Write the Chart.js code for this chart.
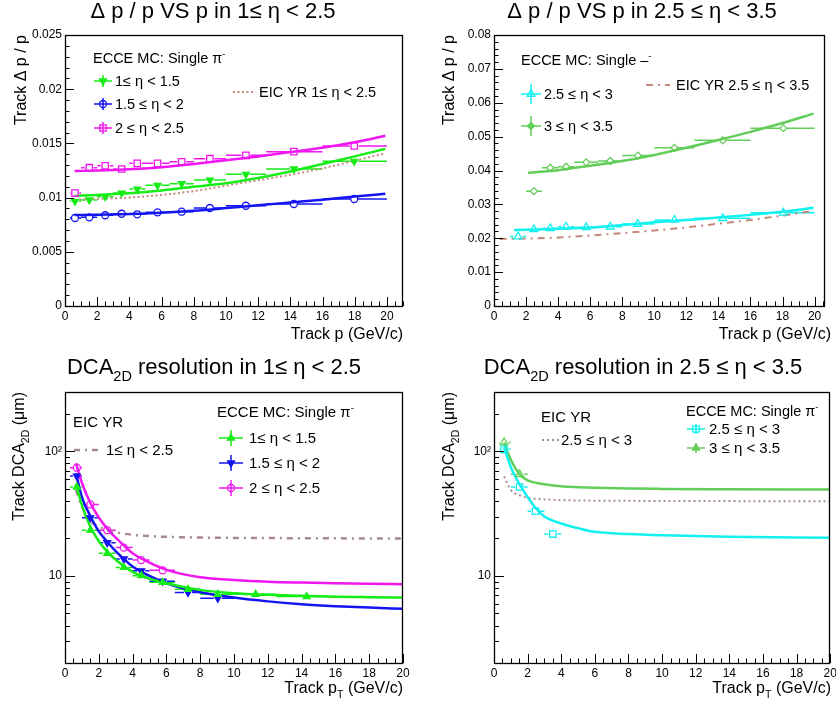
<!DOCTYPE html>
<html>
<head>
<meta charset="utf-8">
<title>ECCE tracking resolution</title>
<script src="https://cdn.jsdelivr.net/npm/chart.js@4.4.1/dist/chart.umd.min.js"></script>
<style>
  html, body { margin: 0; padding: 0; background: #fff; }
  body { position: relative; width: 836px; height: 707px; overflow: hidden; }
  canvas { position: absolute; }
</style>
</head>
<body>
<canvas id="tl" width="418" height="350" style="left:0;top:0"></canvas>
<canvas id="tr" width="418" height="350" style="left:418px;top:0"></canvas>
<canvas id="bl" width="418" height="357" style="left:0;top:350px"></canvas>
<canvas id="br" width="418" height="357" style="left:418px;top:350px"></canvas>
<script>
const FONT = '"Liberation Sans", Arial, Helvetica, sans-serif';

// p bins shared by every panel (GeV/c)
const binLo = [0.3, 1, 2, 3, 4, 5, 6.5, 8, 10, 12.5, 16];
const binHi = [1, 2, 3, 4, 5, 6.5, 8, 10, 12.5, 16, 20];

// tick labels
const xTickVals = [0, 2, 4, 6, 8, 10, 12, 14, 16, 18, 20];
const yTickValsTL = [0, 0.005, 0.01, 0.015, 0.02, 0.025];
const yTickLabelsTL = ['0', '0.005', '0.01', '0.015', '0.02', '0.025'];
const yTickValsTR = [0, 0.01, 0.02, 0.03, 0.04, 0.05, 0.06, 0.07, 0.08];
const yTickLabelsTR = ['0', '0.01', '0.02', '0.03', '0.04', '0.05', '0.06', '0.07', '0.08'];
const yTickValsLog = [10, 100];
const yTickLabelsLog = ['10', '10\u00b2'];

// top left: dp/p vs p, 1 <= eta < 2.5
const pTL = [0.62, 1.51, 2.5, 3.52, 4.49, 5.75, 7.25, 9.0, 11.24, 14.22, 17.97];
const dppEta10 = [0.00966, 0.00978, 0.01008, 0.01042, 0.01079, 0.01113, 0.01128, 0.01162, 0.01215, 0.01264, 0.01335];
const dppEta15 = [0.00812, 0.00818, 0.00837, 0.00851, 0.00846, 0.00864, 0.0087, 0.00904, 0.00925, 0.00941, 0.00987];
const dppEta20 = [0.01042, 0.01276, 0.01294, 0.01264, 0.01316, 0.01316, 0.01331, 0.01359, 0.0139, 0.01424, 0.01476];
const fitPTL = [0.6, 2, 4, 6, 8, 10, 12, 14, 16, 18, 19.9];
const fitEta10 = [0.01015, 0.01025, 0.0104, 0.01065, 0.011, 0.01132, 0.0118, 0.0124, 0.0131, 0.0138, 0.0145];
const fitEta15 = [0.0084, 0.00842, 0.00848, 0.0086, 0.00878, 0.00903, 0.0093, 0.00955, 0.0098, 0.0101, 0.01035];
const fitEta20 = [0.01245, 0.0125, 0.01262, 0.0128, 0.0131, 0.01345, 0.0138, 0.0142, 0.0146, 0.0151, 0.0157];
const yrTL = [0.0098, 0.00988, 0.01, 0.01025, 0.0106, 0.0111, 0.0116, 0.0121, 0.0127, 0.0134, 0.0141];

// top right: dp/p vs p, 2.5 <= eta < 3.5
const pTR = [1.5, 2.49, 3.51, 4.5, 5.75, 7.25, 8.97, 11.26, 14.27, 18.05];
const dppEta25 = [0.0205, 0.0226, 0.0229, 0.0234, 0.0232, 0.0234, 0.0242, 0.0254, 0.0259, 0.0275];
const dppEta30 = [0.0339, 0.0408, 0.0411, 0.0424, 0.0428, 0.0444, 0.0467, 0.0489, 0.0525];
const fitPEta25 = [1.25, 4, 6, 8, 10, 12, 14, 16, 18, 19.94];
const fitEta25 = [0.0224, 0.0228, 0.0232, 0.0239, 0.0247, 0.0254, 0.0261, 0.0269, 0.0278, 0.029];
const fitPEta30 = [2.12, 4, 6, 8, 10, 12, 14, 16, 18, 19.94];
const fitEta30 = [0.0393, 0.0401, 0.0414, 0.0428, 0.0446, 0.0467, 0.049, 0.0514, 0.054, 0.0568];
const yrPTR = [0.35, 2, 4, 6, 8, 10, 12, 14, 16, 18, 19.94];
const yrTR = [0.0198, 0.0199, 0.0202, 0.0208, 0.0215, 0.0223, 0.0232, 0.0243, 0.0254, 0.0267, 0.0281];

// bottom left: DCA2D vs pT, 1 <= eta < 2.5 (um)
const ptBL = [0.7, 1.5, 2.5, 3.48, 4.51, 5.78, 7.28, 9.04, 11.28, 14.3];
const dcaEta10 = [51.8, 23.3, 15.2, 11.7, 10.05, 8.9, 7.82, 7.13, 7.13, 6.84];
const dcaEta15 = [63.4, 29.3, 18.5, 13.7, 11.0, 9.07, 7.36, 6.63];
const dcaEta20 = [74, 37.5, 23.3, 16.9, 13.4, 11.1];
const fitPtBL = [0.65, 1, 1.5, 2, 2.5, 3, 4, 5, 6, 8, 10, 12, 14, 16, 18, 20];
const fitDcaEta10 = [55.2, 37, 24.8, 19, 15.7, 13.5, 10.8, 9.5, 8.74, 7.73, 7.26, 7.05, 6.92, 6.82, 6.76, 6.71];
const fitDcaEta15 = [67, 43, 30.3, 22.8, 18.8, 15.8, 11.9, 10.0, 8.74, 7.4, 6.71, 6.25, 5.93, 5.72, 5.57, 5.45];
const fitDcaEta20 = [80, 56, 38.5, 29.5, 24, 20.3, 15.2, 12.8, 11.2, 9.77, 9.29, 9.0, 8.84, 8.72, 8.64, 8.58];
const yrDcaBL = [49, 36, 27.5, 25, 23.3, 22.4, 21.4, 20.9, 20.6, 20.35, 20.2, 20.15, 20.1, 20.05, 20.0, 20.0];

// bottom right: DCA2D vs pT, 2.5 <= eta < 3.5 (um)
const ptBR = [0.6, 1.52, 2.47, 3.5];
const dcaEta25 = [104, 51.8, 33.1, 21.7];
const dcaEta30 = [118, 65.5];
const fitPtBR = [0.6, 1, 1.5, 2, 2.5, 3, 4, 5, 6, 8, 10, 14, 20];
const fitDcaEta25 = [108, 75, 55, 43, 34.8, 30, 26.4, 24.2, 22.6, 21.7, 21.2, 20.6, 20.3];
const fitDcaEta30 = [118, 86, 66, 58.5, 56, 54.5, 52.5, 51.6, 51, 50.3, 50, 49.7, 49.4];
const yrDcaBR = [63, 49, 44.5, 42.4, 41.6, 41.2, 40.6, 40.4, 40.2, 40.1, 40.0, 39.9, 39.8];

const GREEN = '#16ec16', BLUE = '#1414f2', MAGENTA = '#f016f0', CYAN = '#12f0f0', GREEN2 = '#62cd58';

// text with sub/superscripts: parts = [[text, 0 normal | 1 sub | 2 sup], ...]
function rich(ctx, parts, x, y, size, align) {
  let w = 0;
  const segs = parts.map(([t, m]) => {
    const s = m ? size * 0.66 : size;
    ctx.font = s + 'px ' + FONT;
    const sw = ctx.measureText(t).width;
    w += sw;
    return { t, m, s, sw };
  });
  let cx = align === 'right' ? x - w : align === 'center' ? x - w / 2 : x;
  ctx.textAlign = 'left';
  ctx.textBaseline = 'alphabetic';
  segs.forEach(g => {
    ctx.font = g.s + 'px ' + FONT;
    const dy = g.m === 1 ? size * 0.33 : g.m === 2 ? -size * 0.42 : 0;
    ctx.fillText(g.t, cx, y + dy);
    cx += g.sw;
  });
}

function markers(label, xs, ys, bin0, color, style, filled, rot, r) {
  return {
    label, data: ys.map((v, i) => ({ x: xs[i], y: v })),
    showLine: false, borderColor: color, backgroundColor: filled ? color : 'rgba(0,0,0,0)',
    pointStyle: style, pointRotation: rot || 0, pointRadius: r || 4, pointBorderWidth: 1.3,
    binLo: binLo.slice(bin0, bin0 + ys.length), binHi: binHi.slice(bin0, bin0 + ys.length)
  };
}

function curve(label, xs, ys, color, width, dash) {
  return {
    label, data: ys.map((v, i) => ({ x: xs[i], y: v })),
    showLine: true, borderColor: color, borderWidth: width, borderDash: dash || [],
    pointRadius: 0, cubicInterpolationMode: 'monotone', fill: false
  };
}

function xScale(max) {
  return {
    type: 'linear', min: 0, max: max,
    grid: { display: false, drawTicks: false }, border: { display: false },
    ticks: { font: { size: 12, family: FONT }, color: '#000', padding: 3, autoSkip: false,
             minRotation: 0, maxRotation: 0, callback: (v, i) => String(xTickVals[i]) },
    afterBuildTicks: s => { s.ticks = xTickVals.map(v => ({ value: v })); },
    afterFit: s => { s.height = 20; s.paddingLeft = 0; s.paddingRight = 0; }
  };
}

function yScale(type, min, max, vals, labels) {
  return {
    type: type, min: min, max: max,
    grid: { display: false, drawTicks: false }, border: { display: false },
    ticks: { font: { size: 12, family: FONT }, color: '#000', padding: 3, autoSkip: false,
             callback: (v, i) => labels[i] },
    afterBuildTicks: s => { s.ticks = vals.map(v => ({ value: v })); },
    afterFit: s => { s.width = 40; s.paddingTop = 0; s.paddingBottom = 0; }
  };
}

const PI_M = [['ECCE MC: Single ', 0], ['\u03c0', 0], ['-', 2]];

// per-panel decoration (titles, legends, tick pattern)
const deco = {
  tl: {
    ticks: { minor: 0.001, per: 5 },
    title: { parts: [['\u0394 p / p VS p in 1\u2264 \u03b7 < 2.5', 0]], x: 213, y: 18 },
    xTitle: { parts: [['Track p (GeV/c)', 0]], x: 403, y: 339 },
    yTitle: { parts: [['Track \u0394 p / p', 0]], x: 20, y: 35 },
    headers: [{ parts: PI_M, x: 93, y: 63, size: 14.5 }],
    items: [
      { x: 103, y: 81, hw: 9, eb: 6, color: GREEN, style: 'triangle', rot: 180, fill: true, text: '1\u2264 \u03b7 < 1.5', tx: 115, size: 14.5 },
      { x: 103, y: 104, hw: 9, eb: 6, color: BLUE, style: 'circle', r: 3.5, text: '1.5 \u2264 \u03b7 < 2', tx: 115, size: 14.5 },
      { x: 103, y: 128, hw: 9, eb: 6, color: MAGENTA, style: 'rect', r: 4.5, text: '2 \u2264 \u03b7 < 2.5', tx: 115, size: 14.5 },
      { x: 244, y: 92, hw: 11, color: '#c98b7f', dash: [2, 2.5], lw: 2, text: 'EIC YR 1\u2264 \u03b7 < 2.5', tx: 259, size: 14.5 }
    ]
  },
  tr: {
    ticks: { minor: 0.002, per: 5 },
    title: { parts: [['\u0394 p / p VS p in 2.5 \u2264 \u03b7 < 3.5', 0]], x: 224, y: 18 },
    xTitle: { parts: [['Track p (GeV/c)', 0]], x: 413, y: 339 },
    yTitle: { parts: [['Track \u0394 p / p', 0]], x: 30, y: 35 },
    headers: [{ parts: [['ECCE MC: Single ', 0], ['\u2013', 0], ['-', 2]], x: 103, y: 65, size: 14.5 }],
    items: [
      { x: 113, y: 94, hw: 10, eb: 10, color: CYAN, style: 'triangle', r: 4.5, text: '2.5 \u2264 \u03b7 < 3', tx: 126, size: 14.5 },
      { x: 113, y: 126, hw: 10, eb: 10, color: GREEN2, style: 'rectRot', fill: true, r: 3.5, text: '3 \u2264 \u03b7 < 3.5', tx: 126, size: 14.5 },
      { x: 240, y: 85, hw: 12, color: '#c4877a', dash: [7, 5, 2, 5], lw: 2, text: 'EIC YR 2.5 \u2264 \u03b7 < 3.5', tx: 258, size: 14.5 }
    ]
  },
  bl: {
    ticks: { log: true },
    title: { parts: [['DCA', 0], ['2D', 1], [' resolution in 1\u2264 \u03b7 < 2.5', 0]], x: 214, y: 24 },
    xTitle: { parts: [['Track p', 0], ['T', 1], [' (GeV/c)', 0]], x: 403, y: 343 },
    yTitle: { parts: [['Track DCA', 0], ['2D', 1], [' (\u03bcm)', 0]], x: 18, y: 42 },
    headers: [{ parts: [['EIC YR', 0]], x: 73, y: 77, size: 15 }, { parts: PI_M, x: 217, y: 67, size: 15 }],
    items: [
      { x: 86, y: 100, hw: 12, color: '#a58b8b', dash: [6, 5, 2, 5], lw: 2.5, text: '1\u2264 \u03b7 < 2.5', tx: 106, size: 15 },
      { x: 231, y: 88, hw: 12, eb: 8, color: GREEN, style: 'triangle', fill: true, text: '1\u2264 \u03b7 < 1.5', tx: 249, size: 15 },
      { x: 231, y: 113, hw: 12, eb: 8, color: BLUE, style: 'triangle', rot: 180, fill: true, text: '1.5 \u2264 \u03b7 < 2', tx: 249, size: 15 },
      { x: 231, y: 138, hw: 12, eb: 8, color: MAGENTA, style: 'circle', r: 3.5, text: '2 \u2264 \u03b7 < 2.5', tx: 249, size: 15 }
    ]
  },
  br: {
    ticks: { log: true },
    title: { parts: [['DCA', 0], ['2D', 1], [' resolution in 2.5 \u2264 \u03b7 < 3.5', 0]], x: 225, y: 24 },
    xTitle: { parts: [['Track p', 0], ['T', 1], [' (GeV/c)', 0]], x: 413, y: 343 },
    yTitle: { parts: [['Track DCA', 0], ['2D', 1], [' (\u03bcm)', 0]], x: 30, y: 42 },
    headers: [{ parts: [['EIC YR', 0]], x: 123, y: 72, size: 15 }, { parts: PI_M, x: 268, y: 66, size: 14.5 }],
    items: [
      { x: 133, y: 90, hw: 9, color: '#a88c94', dash: [2, 3], lw: 2, text: '2.5 \u2264 \u03b7 < 3', tx: 143, size: 15 },
      { x: 278, y: 79, hw: 9, eb: 5, color: CYAN, style: 'rect', r: 4.5, text: '2.5 \u2264 \u03b7 < 3', tx: 291, size: 15 },
      { x: 278, y: 98, hw: 9, eb: 5, color: GREEN2, style: 'triangle', fill: true, text: '3 \u2264 \u03b7 < 3.5', tx: 291, size: 15 }
    ]
  }
};

const rootStyle = {
  id: 'rootStyle',
  beforeDatasetsDraw(chart) {
    // horizontal bin-width error bars
    const { ctx, chartArea: a, scales: { x, y } } = chart;
    ctx.save();
    ctx.beginPath();
    ctx.rect(a.left, a.top, a.right - a.left, a.bottom - a.top);
    ctx.clip();
    chart.data.datasets.forEach(ds => {
      if (!ds.binLo) return;
      ctx.strokeStyle = ds.borderColor;
      ctx.lineWidth = 1.5;
      ctx.beginPath();
      ds.data.forEach((pt, j) => {
        const px = x.getPixelForValue(pt.x), py = y.getPixelForValue(pt.y);
        const x0 = x.getPixelForValue(ds.binLo[j]), x1 = x.getPixelForValue(ds.binHi[j]);
        const r = ds.pointRadius;
        ctx.moveTo(x0, py); ctx.lineTo(Math.max(x0, px - r), py);
        ctx.moveTo(Math.min(x1, px + r), py); ctx.lineTo(x1, py);
      });
      ctx.stroke();
    });
    ctx.restore();
  },
  afterDatasetsDraw(chart) {
    const d = deco[chart.canvas.id];
    const { ctx, chartArea: a, scales: { x, y } } = chart;
    ctx.save();
    ctx.strokeStyle = '#000';
    ctx.lineWidth = 1;
    ctx.beginPath();
    for (let k = 0; k * 0.5 <= x.max + 1e-9; k++) {
      const px = Math.round(x.getPixelForValue(k * 0.5)) + 0.5;
      const len = k % 4 === 0 ? 9 : 4.5;
      ctx.moveTo(px, a.bottom); ctx.lineTo(px, a.bottom - len);
    }
    if (d.ticks.log) {
      [1, 10, 100].forEach(dec => {
        for (let k = 1; k <= 9; k++) {
          const v = k * dec;
          if (v < y.min || v > y.max) continue;
          const py = Math.round(y.getPixelForValue(v)) + 0.5;
          const len = k === 1 ? 10 : 5;
          ctx.moveTo(a.left, py); ctx.lineTo(a.left + len, py);
        }
      });
    } else {
      const n = Math.round(y.max / d.ticks.minor);
      for (let k = 0; k <= n; k++) {
        const py = Math.round(y.getPixelForValue(k * d.ticks.minor)) + 0.5;
        const len = k % d.ticks.per === 0 ? 9 : 4.5;
        ctx.moveTo(a.left, py); ctx.lineTo(a.left + len, py);
      }
    }
    ctx.stroke();
    ctx.lineWidth = 1.3;
    ctx.strokeRect(Math.round(a.left) + 0.5, Math.round(a.top) + 0.5,
                   Math.round(a.right - a.left) - 1, Math.round(a.bottom - a.top));
    ctx.restore();
  },
  afterDraw(chart) {
    const d = deco[chart.canvas.id];
    const ctx = chart.ctx;
    ctx.save();
    ctx.fillStyle = '#000';
    rich(ctx, d.title.parts, d.title.x, d.title.y, 22, 'center');
    rich(ctx, d.xTitle.parts, d.xTitle.x, d.xTitle.y, 16, 'right');
    ctx.save();
    ctx.translate(d.yTitle.x + 16 * 0.36, d.yTitle.y);
    ctx.rotate(-Math.PI / 2);
    rich(ctx, d.yTitle.parts, 0, 0, 16, 'right');
    ctx.restore();
    d.headers.forEach(h => rich(ctx, h.parts, h.x, h.y, h.size, 'left'));
    d.items.forEach(it => {
      ctx.save();
      ctx.strokeStyle = it.color;
      ctx.lineWidth = it.lw || 1.5;
      if (it.dash) ctx.setLineDash(it.dash);
      ctx.beginPath();
      ctx.moveTo(it.x - it.hw, it.y); ctx.lineTo(it.x + it.hw, it.y);
      ctx.stroke();
      ctx.setLineDash([]);
      if (it.eb) {
        ctx.beginPath();
        ctx.moveTo(it.x, it.y - it.eb); ctx.lineTo(it.x, it.y + it.eb);
        ctx.stroke();
      }
      if (it.style) {
        ctx.lineWidth = 1.3;
        ctx.fillStyle = it.fill ? it.color : 'rgba(0,0,0,0)';
        Chart.helpers.drawPoint(ctx, { pointStyle: it.style, rotation: it.rot || 0, radius: it.r || 4, borderWidth: 1.3 }, it.x, it.y);
      }
      ctx.restore();
      ctx.fillStyle = '#000';
      rich(ctx, [[it.text, 0]], it.tx, it.y + it.size * 0.36, it.size, 'left');
    });
    ctx.restore();
  }
};
Chart.register(rootStyle);

function build(id, datasets, xMax, y, pad) {
  return new Chart(document.getElementById(id), {
    type: 'scatter',
    data: { datasets },
    options: {
      responsive: false, animation: false, events: [],
      layout: { padding: pad },
      plugins: { legend: { display: false }, tooltip: { enabled: false }, title: { display: false } },
      scales: { x: xScale(xMax), y: y }
    }
  });
}

build('tl', [
  markers('1 <= eta < 1.5', pTL, dppEta10, 0, GREEN, 'triangle', true, 180, 4),
  markers('1.5 <= eta < 2', pTL, dppEta15, 0, BLUE, 'circle', false, 0, 3.5),
  markers('2 <= eta < 2.5', pTL, dppEta20, 0, MAGENTA, 'rect', false, 0, 4.5),
  curve('fit 1-1.5', fitPTL, fitEta10, GREEN, 2.5),
  curve('fit 1.5-2', fitPTL, fitEta15, BLUE, 2.5),
  curve('fit 2-2.5', fitPTL, fitEta20, MAGENTA, 2.5),
  curve('EIC YR 1-2.5', fitPTL, yrTL, '#c98b7f', 2, [2, 2.5])
], 21, yScale('linear', 0, 0.025, yTickValsTL, yTickLabelsTL), { left: 25, right: 15, top: 35, bottom: 24 });

build('tr', [
  markers('2.5 <= eta < 3', pTR, dppEta25, 1, CYAN, 'triangle', false, 0, 4.5),
  markers('3 <= eta < 3.5', pTR.slice(1), dppEta30, 2, GREEN2, 'rectRot', false, 0, 3.5),
  curve('fit 2.5-3', fitPEta25, fitEta25, CYAN, 2.5),
  curve('fit 3-3.5', fitPEta30, fitEta30, GREEN2, 2.5),
  curve('EIC YR 2.5-3.5', yrPTR, yrTR, '#c4877a', 2, [7, 5, 2, 5])
], 20.65, yScale('linear', 0, 0.08, yTickValsTR, yTickLabelsTR), { left: 36, right: 11, top: 35, bottom: 24 });

build('bl', [
  markers('1 <= eta < 1.5', ptBL, dcaEta10, 0, GREEN, 'triangle', true, 0, 4),
  markers('1.5 <= eta < 2', ptBL, dcaEta15, 0, BLUE, 'triangle', true, 180, 4),
  markers('2 <= eta < 2.5', ptBL, dcaEta20, 0, MAGENTA, 'circle', false, 0, 3.5),
  curve('fit 1-1.5', fitPtBL, fitDcaEta10, GREEN, 2.5),
  curve('fit 1.5-2', fitPtBL, fitDcaEta15, BLUE, 2.5),
  curve('fit 2-2.5', fitPtBL, fitDcaEta20, MAGENTA, 2.5),
  curve('EIC YR 1-2.5', fitPtBL, yrDcaBL, '#a58b8b', 2.5, [6, 5, 2, 5])
], 20, yScale('logarithmic', 2, 300, yTickValsLog, yTickLabelsLog), { left: 25, right: 15, top: 42, bottom: 24 });

build('br', [
  markers('2.5 <= eta < 3', ptBR, dcaEta25, 0, CYAN, 'rect', false, 0, 4.5),
  markers('3 <= eta < 3.5', ptBR, dcaEta30, 0, GREEN2, 'triangle', false, 0, 4.5),
  curve('fit 2.5-3', fitPtBR, fitDcaEta25, CYAN, 2.5),
  curve('fit 3-3.5', fitPtBR, fitDcaEta30, GREEN2, 2.5),
  curve('EIC YR 2.5-3', fitPtBR, yrDcaBR, '#a88c94', 2, [2, 3])
], 20, yScale('logarithmic', 2, 300, yTickValsLog, yTickLabelsLog), { left: 36, right: 5, top: 42, bottom: 24 });
</script>
</body>
</html>
